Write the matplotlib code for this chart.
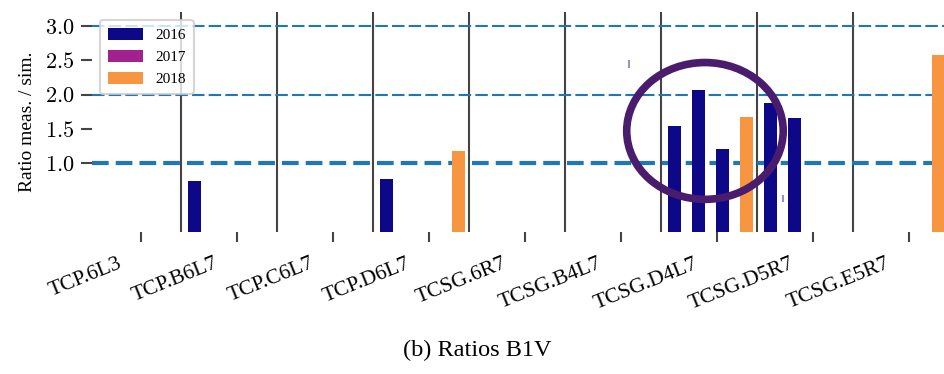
import matplotlib
matplotlib.use("Agg")
import matplotlib.pyplot as plt
from matplotlib.patches import Ellipse, Patch
from matplotlib.transforms import ScaledTranslation

plt.rcParams['mathtext.fontset'] = 'cm'
SERIF = ['Liberation Serif', 'DejaVu Serif']

# ---- data ----
categories = ['TCP.6L3', 'TCP.B6L7', 'TCP.C6L7', 'TCP.D6L7', 'TCSG.6R7',
              'TCSG.B4L7', 'TCSG.D4L7', 'TCSG.D5R7', 'TCSG.E5R7']
bar_pos = [0.5625, 2.5625, 3.3125, 5.5625, 5.8125, 6.0625, 6.3125, 6.5625, 6.8125, 8.3125]
bar_vals = [0.74, 0.77, 1.18, 1.54, 2.06, 1.21, 1.68, 1.87, 1.66, 2.58]
bar_year = ['2016', '2016', '2018', '2016', '2016', '2016', '2018', '2016', '2016', '2018']
years = ['2016', '2017', '2018']
year_colors = {'2016': '#0d0887', '2017': '#a3218f', '2018': '#f89540'}
separators = [k + 5 / 12 for k in range(8)]
ref_lines = [1.0, 2.0, 3.0]
yticks = [1.0, 1.5, 2.0, 2.5, 3.0]
err_x = [5.083, 6.684]
err_lo = [2.39, 0.44]
err_hi = [2.50, 0.54]
highlight = dict(x=5.875, y=1.47, w=1.63, h=1.99)

fig = plt.figure(figsize=(9.44, 3.74), dpi=100)
ax = fig.add_axes([92 / 944, 1 - 232 / 374, 1 - 92 / 944, 220 / 374])

for s in separators:
    ax.axvline(s, color='#444444', lw=1.5, zorder=1)

ax.axhline(ref_lines[0], color='#1f77b4', lw=3, dashes=(4, 1.7), zorder=2)
for r in ref_lines[1:]:
    ax.axhline(r, color='#1f77b4', lw=1.5, dashes=(6, 2), zorder=2)

ax.bar(bar_pos, bar_vals, width=0.135, color=[year_colors[y] for y in bar_year],
       zorder=3, edgecolor='none')
ax.vlines(err_x, err_lo, err_hi, color='#9d8fc4', lw=1.5, zorder=3)

ax.add_patch(Ellipse((highlight['x'], highlight['y']), highlight['w'], highlight['h'],
                     fill=False, edgecolor='#4a1c6e', lw=5.5, zorder=4))

ax.set_xlim(-0.51, 8.365)
ax.set_ylim(0, 3.2)
for sp in ax.spines.values():
    sp.set_visible(False)

ax.set_yticks(yticks)
ax.set_yticklabels([f'${v:.1f}$' for v in yticks], fontsize=16)
ax.tick_params(axis='y', length=8, width=1.5, color='#444444', pad=4.5)

ax.set_xticks(range(len(categories)))
ax.set_xticklabels(categories, rotation=22, ha='right', fontsize=15.5, family=SERIF)
ax.tick_params(axis='x', length=7, width=1.5, color='#444444', pad=9)
off = ScaledTranslation(-16 / 100, 0, fig.dpi_scale_trans)
for lab in ax.get_xticklabels():
    lab.set_transform(lab.get_transform() + off)

ax.set_ylabel('Ratio meas. / sim.', fontsize=14, family=SERIF)
ax.yaxis.set_label_coords(-0.066, 0.5)

handles = [Patch(facecolor=year_colors[y], edgecolor='none') for y in years]
leg = ax.legend(handles, years, loc='upper left', prop={'family': SERIF, 'size': 11},
                handlelength=2.3, handleheight=0.85, labelspacing=0.5,
                handletextpad=0.8, frameon=True, fancybox=True, borderpad=0.5,
                borderaxespad=0.55)
leg.get_frame().set_edgecolor('#cccccc')
leg.get_frame().set_linewidth(1.5)
leg.set_zorder(5)

fig.text(0.506, 1 - 350 / 374, '(b) Ratios B1V', ha='center', va='center',
         fontsize=17.5, family=SERIF)

fig.savefig('out.png', dpi=100)
